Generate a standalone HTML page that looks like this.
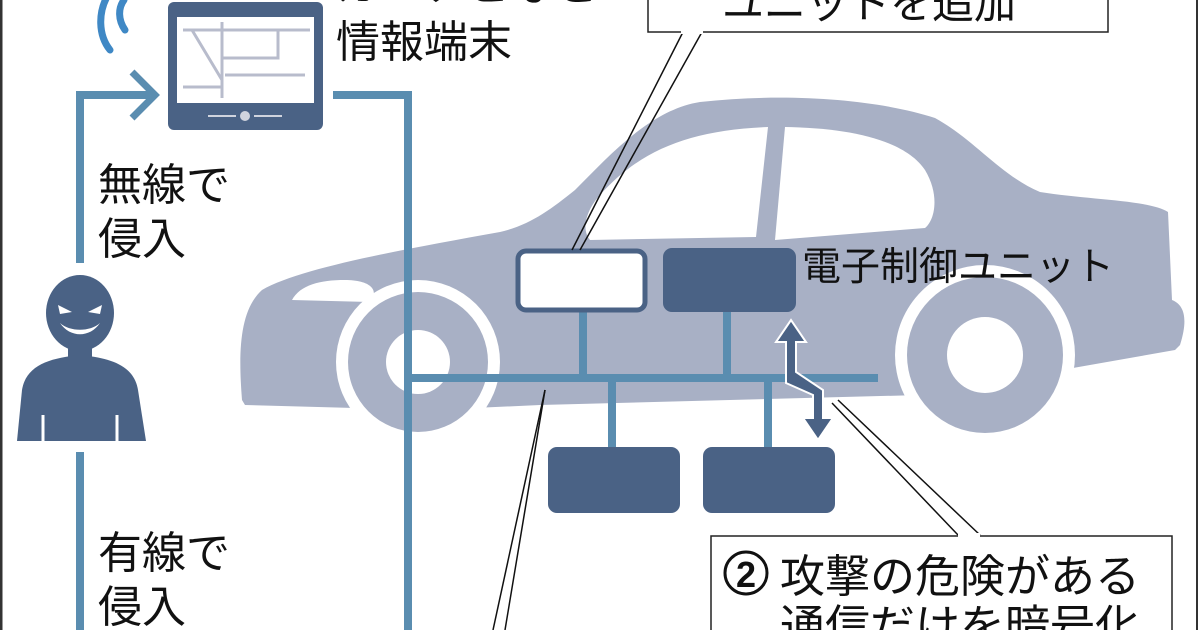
<!DOCTYPE html>
<html><head><meta charset="utf-8"><style>
html,body{margin:0;padding:0;background:#fff;}
svg{display:block;}
text{font-family:"Liberation Sans","Noto Sans CJK JP",sans-serif;fill:#111;}
</style></head><body>
<svg width="1200" height="630" viewBox="0 0 1200 630" xmlns="http://www.w3.org/2000/svg">
<rect width="1200" height="630" fill="#fff"/>
<line x1="1" y1="0" x2="1" y2="630" stroke="#333" stroke-width="3"/>
<line x1="1197" y1="0" x2="1197" y2="630" stroke="#333" stroke-width="2"/>

<!-- car body -->
<path d="M242,400 C238,350 240,310 262,290 C300,268 400,250 500,232 C530,225 550,210 575,190 C610,155 650,110 700,102 C790,92 880,100 935,118 C975,140 1000,175 1040,192 C1090,200 1150,200 1168,212 L1172,300 C1185,305 1188,320 1180,345 L1175,350 L920,395 L540,405 L430,410 L245,405 Z" fill="#a8b0c5"/>
<!-- windows -->
<path d="M600,195 C640,150 690,130 768,127 L756,237 L590,240 C580,228 588,208 600,195 Z" fill="#fff"/>
<path d="M785,127 C850,128 905,140 925,170 C940,195 935,220 925,228 L775,240 Z" fill="#fff"/>
<path d="M292,300 C300,285 320,280 345,280 C370,280 380,290 370,302 Z" fill="#fff"/>
<!-- wheels -->
<circle cx="418" cy="362" r="82" fill="#fff"/>
<circle cx="418" cy="362" r="70" fill="#a8b0c5"/>
<circle cx="418" cy="362" r="32" fill="#fff"/>
<circle cx="985" cy="355" r="90" fill="#fff"/>
<circle cx="985" cy="355" r="78" fill="#a8b0c5"/>
<circle cx="985" cy="355" r="38" fill="#fff"/>

<!-- blue lines -->
<g stroke="#5a8db0" stroke-width="8" fill="none">
<polyline points="80,263 80,95 150,95"/>
<polyline points="132,72 155,95 132,118" stroke-width="7"/>
<polyline points="333,95 408,95 408,630"/>
<line x1="80" y1="452" x2="80" y2="630"/>
<line x1="408" y1="378" x2="878" y2="378"/>
<line x1="583" y1="310" x2="583" y2="378"/>
<line x1="727" y1="312" x2="727" y2="378"/>
<line x1="612" y1="378" x2="612" y2="448"/>
<line x1="768" y1="378" x2="768" y2="448"/>
</g>
<!-- wifi -->
<g stroke="#3f88c5" stroke-width="7" fill="none" stroke-linecap="round">
<path d="M125,30 C118,20 118,8 124,0"/>
<path d="M110,50 C98,35 98,12 108,-5"/>
</g>

<!-- tablet -->
<rect x="168" y="2" width="155" height="128" rx="6" fill="#4a6285"/>
<rect x="177" y="17" width="137" height="86" fill="#fff"/>
<g stroke="#b8bccc" stroke-width="3" fill="none">
<line x1="183" y1="30" x2="310" y2="30"/>
<polyline points="192,30 222,80 222,97"/>
<line x1="222" y1="22" x2="222" y2="98"/>
<polyline points="222,58 278,58 278,30"/>
<line x1="225" y1="75" x2="305" y2="75"/>
<line x1="183" y1="87" x2="222" y2="87"/>
</g>
<circle cx="245" cy="116" r="5" fill="#d0d4de"/>
<line x1="208" y1="116" x2="236" y2="116" stroke="#d0d4de" stroke-width="2"/>
<line x1="254" y1="116" x2="282" y2="116" stroke="#d0d4de" stroke-width="2"/>

<!-- person -->
<g fill="#4a6285">
<ellipse cx="80" cy="313" rx="34" ry="38"/>
<rect x="68" y="345" width="24" height="15"/>
<path d="M17,441 L22,390 C26,365 50,358 80,355 C110,358 134,365 138,390 L146,441 Z"/>
</g>
<path d="M58,305 L72,312 L60,314 Z M102,305 L88,312 L100,314 Z" fill="#fff"/>
<path d="M60,323 C70,338 90,338 100,323 C90,332 70,332 60,323 Z" fill="#fff"/>
<line x1="43" y1="415" x2="43" y2="441" stroke="#fff" stroke-width="3"/>
<line x1="117" y1="415" x2="117" y2="441" stroke="#fff" stroke-width="3"/>

<!-- ECUs -->
<rect x="518" y="251" width="127" height="59" rx="8" fill="#fff" stroke="#4a6285" stroke-width="5"/>
<rect x="663" y="248" width="133" height="64" rx="9" fill="#4a6285"/>
<rect x="548" y="447" width="132" height="66" rx="9" fill="#4a6285"/>
<rect x="703" y="447" width="132" height="66" rx="9" fill="#4a6285"/>
<!-- double arrow -->
<g fill="#4a6285" stroke="#fff" stroke-width="2">
<path d="M786,383 L786,342 L776,342 L791,320 L806,342 L796,342 L796,372 L823,390 L823,418 L833,418 L818,440 L803,418 L813,418 L813,395 L786,383 Z"/>
</g>

<!-- callout tails -->
<g stroke="#111" stroke-width="1.5" fill="none">
<line x1="683" y1="32" x2="572" y2="250"/>
<line x1="702" y1="32" x2="580" y2="250"/>
<line x1="545" y1="390" x2="493" y2="630"/>
<line x1="545" y1="390" x2="505" y2="630"/>
<line x1="832" y1="403" x2="958" y2="535"/>
<line x1="838" y1="400" x2="980" y2="535"/>
</g>
<!-- top callout -->
<rect x="648" y="-10" width="460" height="42" fill="#fff" stroke="#222" stroke-width="1.5"/>
<rect x="681" y="30" width="22" height="4" fill="#fff"/>
<text x="722" y="18" font-size="42">ユニットを追加</text>
<!-- bottom callout -->
<rect x="711" y="536" width="461" height="110" fill="#fff" stroke="#222" stroke-width="1.5"/>
<rect x="958" y="533" width="22" height="5" fill="#fff"/>
<circle cx="746" cy="573" r="21" fill="none" stroke="#111" stroke-width="3"/>
<text x="746" y="587" font-size="36" text-anchor="middle" font-weight="bold">2</text>
<text x="780" y="592" font-size="45">攻撃の危険がある</text>
<text x="780" y="642" font-size="45">通信だけを暗号化</text>

<!-- labels -->
<text x="335" y="0" font-size="44">カーナビなど</text>
<text x="336" y="57" font-size="44">情報端末</text>
<text x="98" y="200" font-size="44">無線で</text>
<text x="98" y="254" font-size="44">侵入</text>
<text x="98" y="568" font-size="44">有線で</text>
<text x="98" y="622" font-size="44">侵入</text>
<text x="802" y="280" font-size="39">電子制御ユニット</text>
</svg>
</body></html>
